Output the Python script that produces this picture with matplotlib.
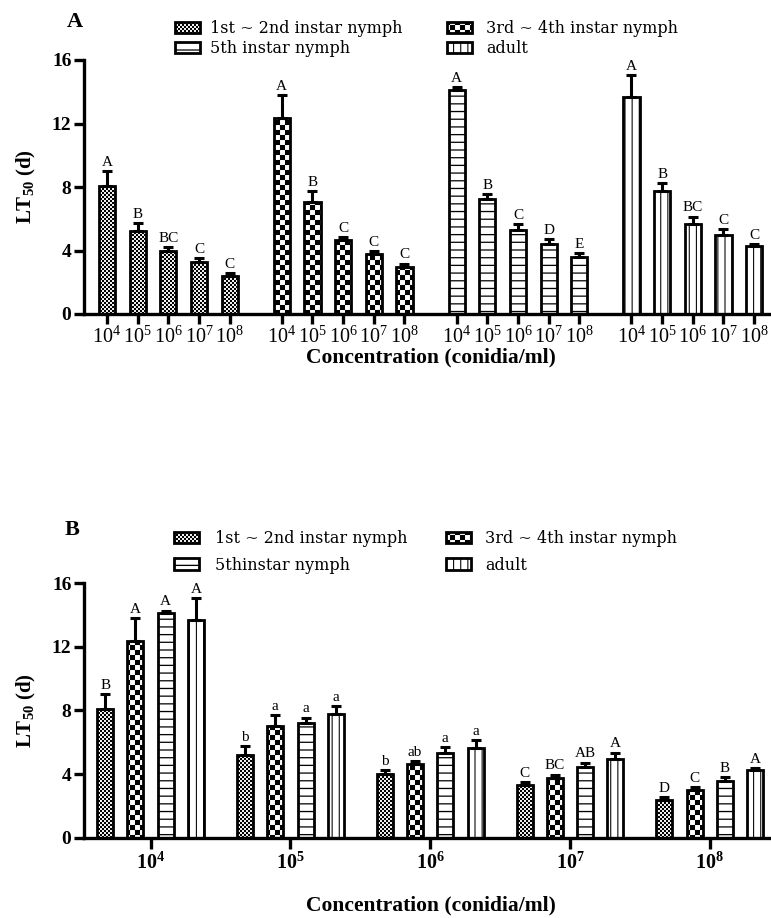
import numpy as np
import matplotlib
matplotlib.use("Agg")
import matplotlib.pyplot as plt
import matplotlib.hatch as mhatch
from matplotlib.path import Path


# ---------------- data ----------------
stages_a = ["1st ~ 2nd instar nymph", "3rd ~ 4th instar nymph", "5th instar nymph", "adult"]
stages_b = ["1st ~ 2nd instar nymph", "3rd ~ 4th instar nymph", "5thinstar nymph", "adult"]
conc_exp = ["4", "5", "6", "7", "8"]

# LT50 (d) per stage, over 10^4 ... 10^8 conidia/ml
lt50_s12 = [8.07, 5.20, 3.98, 3.28, 2.38]
lt50_s34 = [12.37, 7.03, 4.63, 3.75, 2.98]
lt50_s5 = [14.10, 7.22, 5.29, 4.44, 3.56]
lt50_adult = [13.70, 7.76, 5.64, 4.97, 4.27]

# upper error (SE)
err_s12 = [0.95, 0.55, 0.25, 0.22, 0.18]
err_s34 = [1.40, 0.70, 0.20, 0.22, 0.20]
err_s5 = [0.17, 0.33, 0.38, 0.28, 0.27]
err_adult = [1.38, 0.50, 0.50, 0.38, 0.12]

# letters, panel A (within stage)
let_a_s12 = ["A", "B", "BC", "C", "C"]
let_a_s34 = ["A", "B", "C", "C", "C"]
let_a_s5 = ["A", "B", "C", "D", "E"]
let_a_adult = ["A", "B", "BC", "C", "C"]

# letters, panel B (within concentration)
let_b_c4 = ["B", "A", "A", "A"]
let_b_c5 = ["b", "a", "a", "a"]
let_b_c6 = ["b", "ab", "a", "a"]
let_b_c7 = ["C", "BC", "AB", "A"]
let_b_c8 = ["D", "C", "B", "A"]

lt50 = [lt50_s12, lt50_s34, lt50_s5, lt50_adult]
errs = [err_s12, err_s34, err_s5, err_adult]
letters_a = [let_a_s12, let_a_s34, let_a_s5, let_a_adult]
letters_b = [let_b_c4, let_b_c5, let_b_c6, let_b_c7, let_b_c8]


# ---------------- custom hatches (checkers, thin lines) ----------------
def rect_arrays(rects):
    verts = np.zeros((len(rects) * 5, 2))
    codes = np.full(len(rects) * 5, Path.LINETO, dtype=Path.code_type)
    for k, (x0, y0, x1, y1) in enumerate(rects):
        verts[5 * k:5 * k + 5] = [(x0, y0), (x1, y0), (x1, y1), (x0, y1), (x0, y0)]
        codes[5 * k] = Path.MOVETO
        codes[5 * k + 4] = Path.CLOSEPOLY
    return verts, codes


class RectHatch(mhatch.HatchPatternBase):
    key = ""

    def __init__(self, hatch, density):
        self.rects = self.build() if (hatch and self.key in hatch) else []
        self.num_vertices = 5 * len(self.rects)

    def set_vertices_and_codes(self, vertices, codes):
        v, c = rect_arrays(self.rects)
        vertices[:] = v
        codes[:] = c


def checker(n):
    s = 1.0 / n
    return [(i * s, j * s, (i + 1) * s, (j + 1) * s)
            for i in range(n) for j in range(n) if (i + j) % 2 == 0]


class FineChecker(RectHatch):
    key = "o"

    def build(self):
        return checker(50)


class CoarseChecker(RectHatch):
    key = "O"

    def build(self):
        return checker(20)


class HLines(RectHatch):
    key = "-"

    def build(self):
        n = 13
        return [(0, (k + 0.5) / n - 0.006, 1, (k + 0.5) / n + 0.006) for k in range(n)]


class VLines(RectHatch):
    key = "|"

    def build(self):
        n = 14
        return [((k + 0.5) / n - 0.005, 0, (k + 0.5) / n + 0.005, 1) for k in range(n)]


mhatch._hatch_types = [FineChecker, CoarseChecker, HLines, VLines]
hatches = ["o", "O", "-", "|"]

plt.rcParams["hatch.linewidth"] = 0.05
plt.rcParams["font.family"] = ["Liberation Serif", "DejaVu Serif"]
plt.rcParams["mathtext.fontset"] = "custom"
plt.rcParams["mathtext.rm"] = "Liberation Serif"
plt.rcParams["mathtext.bf"] = "Liberation Serif:bold"
plt.rcParams["mathtext.it"] = "Liberation Serif:italic"

W, H = 771, 918
fig = plt.figure(figsize=(W / 100, H / 100), dpi=100)


def style_axes(ax, tick_len_x):
    for side in ["top", "right"]:
        ax.spines[side].set_visible(False)
    for side in ["left", "bottom"]:
        ax.spines[side].set_linewidth(2.4)
    ax.set_ylim(0, 16)
    yt = [0, 4, 8, 12, 16]
    ax.set_yticks(yt, labels=[str(v) for v in yt], fontweight="bold", fontsize=14)
    ax.tick_params(axis="y", direction="out", length=7, width=2.4, pad=2)
    ax.tick_params(axis="x", direction="out", length=tick_len_x, width=2.4, pad=1.5)
    ax.set_ylabel("LT$_{\\mathbf{50}}$ (d)", fontsize=15, fontweight="bold")
    ax.yaxis.label.set_va("center")
    ax.yaxis.set_label_coords(-0.083, 0.5)
    ax.set_xlabel("Concentration (conidia/ml)", fontsize=15.5, fontweight="bold")
    ax.xaxis.label.set_va("center")


BAR_W = 0.53
err_kw = dict(fmt="none", ecolor="black", elinewidth=2.2, capsize=3.6, capthick=2.2, zorder=3)

# ---------------- panel A ----------------
axA = fig.add_axes([84 / W, 1 - 314 / H, (W - 84) / W, 254 / H])
step_a = 5.7
bars_a = []
xt_a, xl_a = [], []
for s in range(4):
    x = s * step_a + np.arange(5)
    b = axA.bar(x, lt50[s], width=BAR_W, color="white", edgecolor="black", lw=2,
                hatch=hatches[s], zorder=2)
    bars_a.append(b)
    axA.errorbar(x, lt50[s], yerr=[np.zeros(5), errs[s]], **err_kw)
    for xi, v, e, lab in zip(x, lt50[s], errs[s], letters_a[s]):
        axA.annotate(lab, (xi, v + e), xytext=(0, 1.5), textcoords="offset points",
                     ha="center", va="bottom", fontsize=11)
    xt_a += list(x)
    xl_a += ["$\\mathrm{10^{%s}}$" % c for c in conc_exp]
axA.set_xticks(xt_a, labels=xl_a, fontsize=14.5)
axA.set_xlim(-0.75, 21.65)
style_axes(axA, 7.5)
axA.xaxis.set_label_coords(0.505, -0.172)

# ---------------- panel B ----------------
axB = fig.add_axes([84 / W, 1 - 837.7 / H, (W - 84) / W, 254.7 / H])
step_b = 4.62
centers = np.arange(5) * step_b
bars_b = []
for s in range(4):
    x = centers + (s - 1.5)
    vals = lt50[s]
    b = axB.bar(x, vals, width=BAR_W, color="white", edgecolor="black", lw=2,
                hatch=hatches[s], zorder=2)
    bars_b.append(b)
    axB.errorbar(x, vals, yerr=[np.zeros(5), errs[s]], **err_kw)
    for g in range(5):
        axB.annotate(letters_b[g][s], (x[g], vals[g] + errs[s][g]), xytext=(0, 1.5),
                     textcoords="offset points", ha="center", va="bottom", fontsize=11)
axB.set_xticks(centers, labels=["$\\mathbf{10^{%s}}$" % c for c in conc_exp], fontsize=14.5)
axB.set_xlim(-2.2, 20.5)
style_axes(axB, 8)
axB.tick_params(axis="x", pad=2.5)
axB.xaxis.set_label_coords(0.505, -0.268)


# ---------------- legends ----------------
def add_legend(handles, labels, x_px, y_px, spacing, tpad):
    fig.legend(handles, labels, loc="upper left",
               bbox_to_anchor=(x_px / W, 1 - y_px / H), bbox_transform=fig.transFigure,
               frameon=False, borderpad=0, borderaxespad=0, handlelength=1.55,
               handleheight=0.7, handletextpad=tpad, labelspacing=spacing,
               prop={"family": ["DejaVu Serif"], "size": 11.5})


add_legend([bars_a[0], bars_a[2]], [stages_a[0], stages_a[2]], 175, 20, 0.18, 0.65)
add_legend([bars_a[1], bars_a[3]], [stages_a[1], stages_a[3]], 447, 20, 0.18, 0.9)
add_legend([bars_b[0], bars_b[2]], [stages_b[0], stages_b[2]], 174, 530, 0.6, 1.0)
add_legend([bars_b[1], bars_b[3]], [stages_b[1], stages_b[3]], 446, 530, 0.6, 0.9)

fig.text(67 / W, 1 - 22 / H, "A", fontsize=16, fontweight="bold", ha="left", va="center")
fig.text(65 / W, 1 - 530 / H, "B", fontsize=16, fontweight="bold", ha="left", va="center")

fig.savefig("out.png", dpi=100)
